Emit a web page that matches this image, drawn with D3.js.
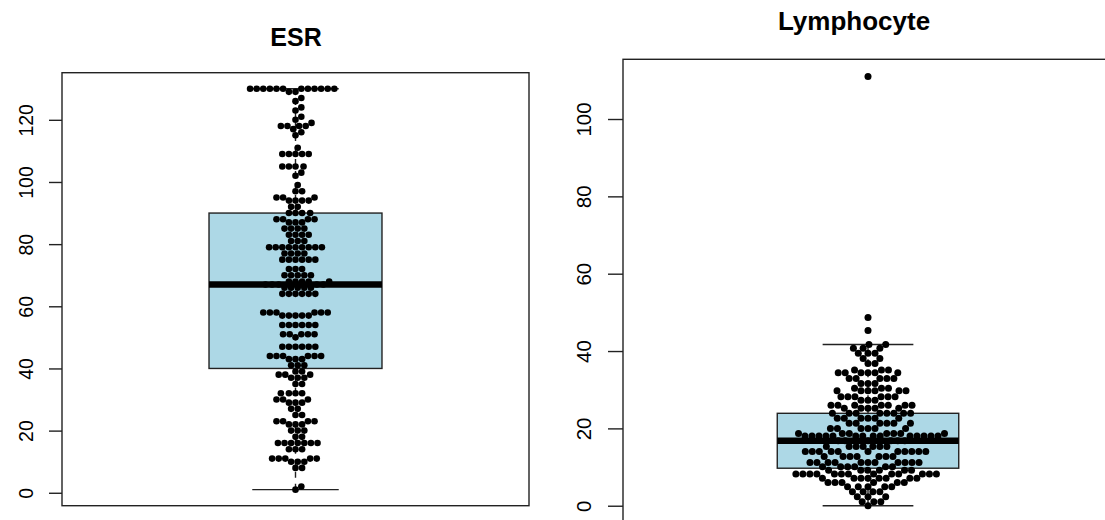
<!DOCTYPE html>
<html>
<head>
<meta charset="utf-8">
<script src="https://cdn.jsdelivr.net/npm/d3@7"></script>
<style>
body { margin: 0; background: #fff; }
text { font-family: "Liberation Sans", Arial, sans-serif; fill: #000; }
</style>
</head>
<body>
<script>
// titles of the two panels
var titles = ["ESR", "Lymphocyte"];

var esrRows = [
    [1, 1], [2, 1], [8, 2], [10, 3], [11, 5], [14, 3], [16, 7], [18, 2], [20, 3], [22, 3],
    [23, 4], [25, 2], [27, 2], [29, 3], [30, 3], [32, 4], [35, 2], [37, 3], [38, 3], [39, 2],
    [41, 3], [43, 3], [44, 6], [47, 6], [50, 1], [51, 5], [54, 6], [57, 5], [58, 6], [64, 6],
    [66, 5], [67, 5], [68, 5], [70, 5], [72, 3], [75, 6], [77, 4], [79, 9], [81, 3], [83, 4],
    [85, 4], [87, 3], [88, 4], [90, 4], [92, 2], [94, 4], [95, 3], [97, 2], [99, 1], [102, 1],
    [103, 1], [105, 4], [109, 5], [111, 1], [115, 1], [116, 1], [117, 1], [118, 4], [119, 1],
    [120, 1], [121, 1], [123, 1], [124, 1], [126, 1], [127, 1], [129, 2], [130, 12]
];
var lymphRows = [
    [0, 1], [1.0, 3], [2.3, 3], [3.6, 4], [4.9, 5], [6.0, 6], [7.1, 8], [8.2, 13], [9.2, 6],
    [10.1, 6], [11.2, 11], [12.7, 7], [14.0, 11], [15.3, 7], [16.8, 6], [18.0, 14], [18.7, 7],
    [20.0, 6], [21.3, 6], [22.6, 6], [23.9, 8], [25.2, 5], [26.0, 7], [27.3, 3], [28.2, 6],
    [29.7, 6], [30.4, 3], [31.6, 3], [32.9, 5], [34.4, 6], [35.1, 3], [36.8, 2], [38.1, 2],
    [39.4, 3], [40.7, 3], [41.7, 2], [45.3, 1], [48.7, 1], [111, 1]
];

// boxplot stats: lower whisker, Q1, median, Q3, upper whisker
var esrStats = [1, 40, 67, 90, 130];
var lymphStats = [0, 9.7, 16.8, 23.9, 41.7];

// y tick labels
var esrTicks = [0, 20, 40, 60, 80, 100, 120];
var lymphTicks = [0, 20, 40, 60, 80, 100];

var width = 1105, height = 520;

var svg = d3.select("body").append("svg")
    .attr("width", width)
    .attr("height", height);

svg.append("rect").attr("width", width).attr("height", height).attr("fill", "#fff");

//expand [value,count] rows into a flat list
function expand(rows) {
    var out = [];
    rows.forEach(function(r) {
        for (var k = 0; k < r[1]; k++) out.push(r[0]);
    });
    return out;
}

//beeswarm "swarm" layout in pixels: each dot goes to the free spot nearest the centre
function swarm(vals, y, gap) {
    var pts = vals.slice().sort(d3.ascending).map(function(v) {
        return {v: v, y: y(v), x: 0};
    });
    var placed = [];
    pts.forEach(function(p) {
        var cands = [0];
        placed.forEach(function(q) {
            var dy = Math.abs(q.y - p.y);
            if (dy < gap) {
                var dx = Math.sqrt(gap * gap - dy * dy);
                cands.push(q.x + dx, q.x - dx);
            }
        });
        var best = null;
        cands.forEach(function(c) {
            if (best !== null && Math.abs(c) >= Math.abs(best)) return;
            for (var i = 0; i < placed.length; i++) {
                var q = placed[i];
                if (Math.abs(q.y - p.y) < gap && Math.hypot(q.x - c, q.y - p.y) < gap - 1e-6) return;
            }
            best = c;
        });
        p.x = best;
        placed.push(p);
    });
    return pts;
}

var panels = [
    {title: titles[0], rows: esrRows, stats: esrStats, ticks: esrTicks,
     left: 62, right: 529, top: 72.7, bottom: 505.7,
     titleX: 296, titleY: 46, titleSize: 25, tickSize: 19.5, labelOff: -29.5, tickLen: 13,
     r: 3.3, gap: 6.6},
    {title: titles[1], rows: lymphRows, stats: lymphStats, ticks: lymphTicks,
     left: 623, right: 1113, top: 59.3, bottom: 522.9,
     titleX: 854, titleY: 30, titleSize: 26, tickSize: 20.5, labelOff: -32, tickLen: 15,
     r: 3.5, gap: 7.0}
];

panels.forEach(function(p) {
    var vals = expand(p.rows);
    var ext = d3.extent(vals);
    var pad = (ext[1] - ext[0]) * 0.04;

    var y = d3.scaleLinear().domain([ext[0] - pad, ext[1] + pad]).range([p.bottom, p.top]);
    var x = d3.scaleLinear().domain([0.46, 1.54]).range([p.left, p.right]);

    var g = svg.append("g");

    //title
    g.append("text")
        .attr("x", p.titleX)
        .attr("y", p.titleY)
        .attr("text-anchor", "middle")
        .style("font-size", p.titleSize + "px")
        .style("font-weight", "bold")
        .text(p.title);

    //frame
    g.append("rect")
        .attr("x", p.left).attr("y", p.top)
        .attr("width", p.right - p.left).attr("height", p.bottom - p.top)
        .attr("fill", "none")
        .attr("stroke", "#222")
        .attr("stroke-width", 1.4);

    //y axis with rotated labels
    var axis = g.append("g")
        .attr("transform", "translate(" + p.left + ",0)")
        .call(d3.axisLeft(y).tickValues(p.ticks).tickSize(p.tickLen).tickFormat(d3.format("d")));
    axis.select(".domain").remove();
    axis.selectAll("line").attr("stroke", "#222").attr("stroke-width", 1.4);
    axis.selectAll("text")
        .attr("transform", "rotate(-90)")
        .attr("x", 0)
        .attr("y", p.labelOff)
        .attr("dy", 0)
        .attr("text-anchor", "middle")
        .style("font-size", p.tickSize + "px")
        .style("font-family", "'Liberation Sans', Arial, sans-serif")
        .attr("fill", "#000");

    var s = p.stats;
    var cx = x(1);
    var bw = x(1.2) - x(1);
    var sw = x(1.1) - x(1);

    //whiskers
    g.selectAll(".whisker")
        .data([[s[0], s[1]], [s[3], s[4]]])
        .enter().append("line")
        .attr("x1", cx).attr("x2", cx)
        .attr("y1", function(d) { return y(d[0]); })
        .attr("y2", function(d) { return y(d[1]); })
        .attr("stroke", "#222")
        .attr("stroke-width", 1.4)
        .attr("stroke-dasharray", "6,6");

    //staples
    g.selectAll(".staple")
        .data([s[0], s[4]])
        .enter().append("line")
        .attr("x1", cx - sw).attr("x2", cx + sw)
        .attr("y1", function(d) { return y(d); })
        .attr("y2", function(d) { return y(d); })
        .attr("stroke", "#222")
        .attr("stroke-width", 1.4);

    //box
    g.append("rect")
        .attr("x", cx - bw).attr("width", 2 * bw)
        .attr("y", y(s[3])).attr("height", y(s[1]) - y(s[3]))
        .attr("fill", "#ADD8E6")
        .attr("stroke", "#222")
        .attr("stroke-width", 1.4);

    //median
    g.append("line")
        .attr("x1", cx - bw).attr("x2", cx + bw)
        .attr("y1", y(s[2])).attr("y2", y(s[2]))
        .attr("stroke", "#000")
        .attr("stroke-width", 6.5);

    //swarm points
    var pts = swarm(vals, y, p.gap);
    g.selectAll(".dot")
        .data(pts)
        .enter().append("circle")
        .attr("class", "dot")
        .attr("cx", function(d) { return cx + d.x; })
        .attr("cy", function(d) { return d.y; })
        .attr("r", p.r)
        .attr("fill", "#000");
});
</script>
</body>
</html>
